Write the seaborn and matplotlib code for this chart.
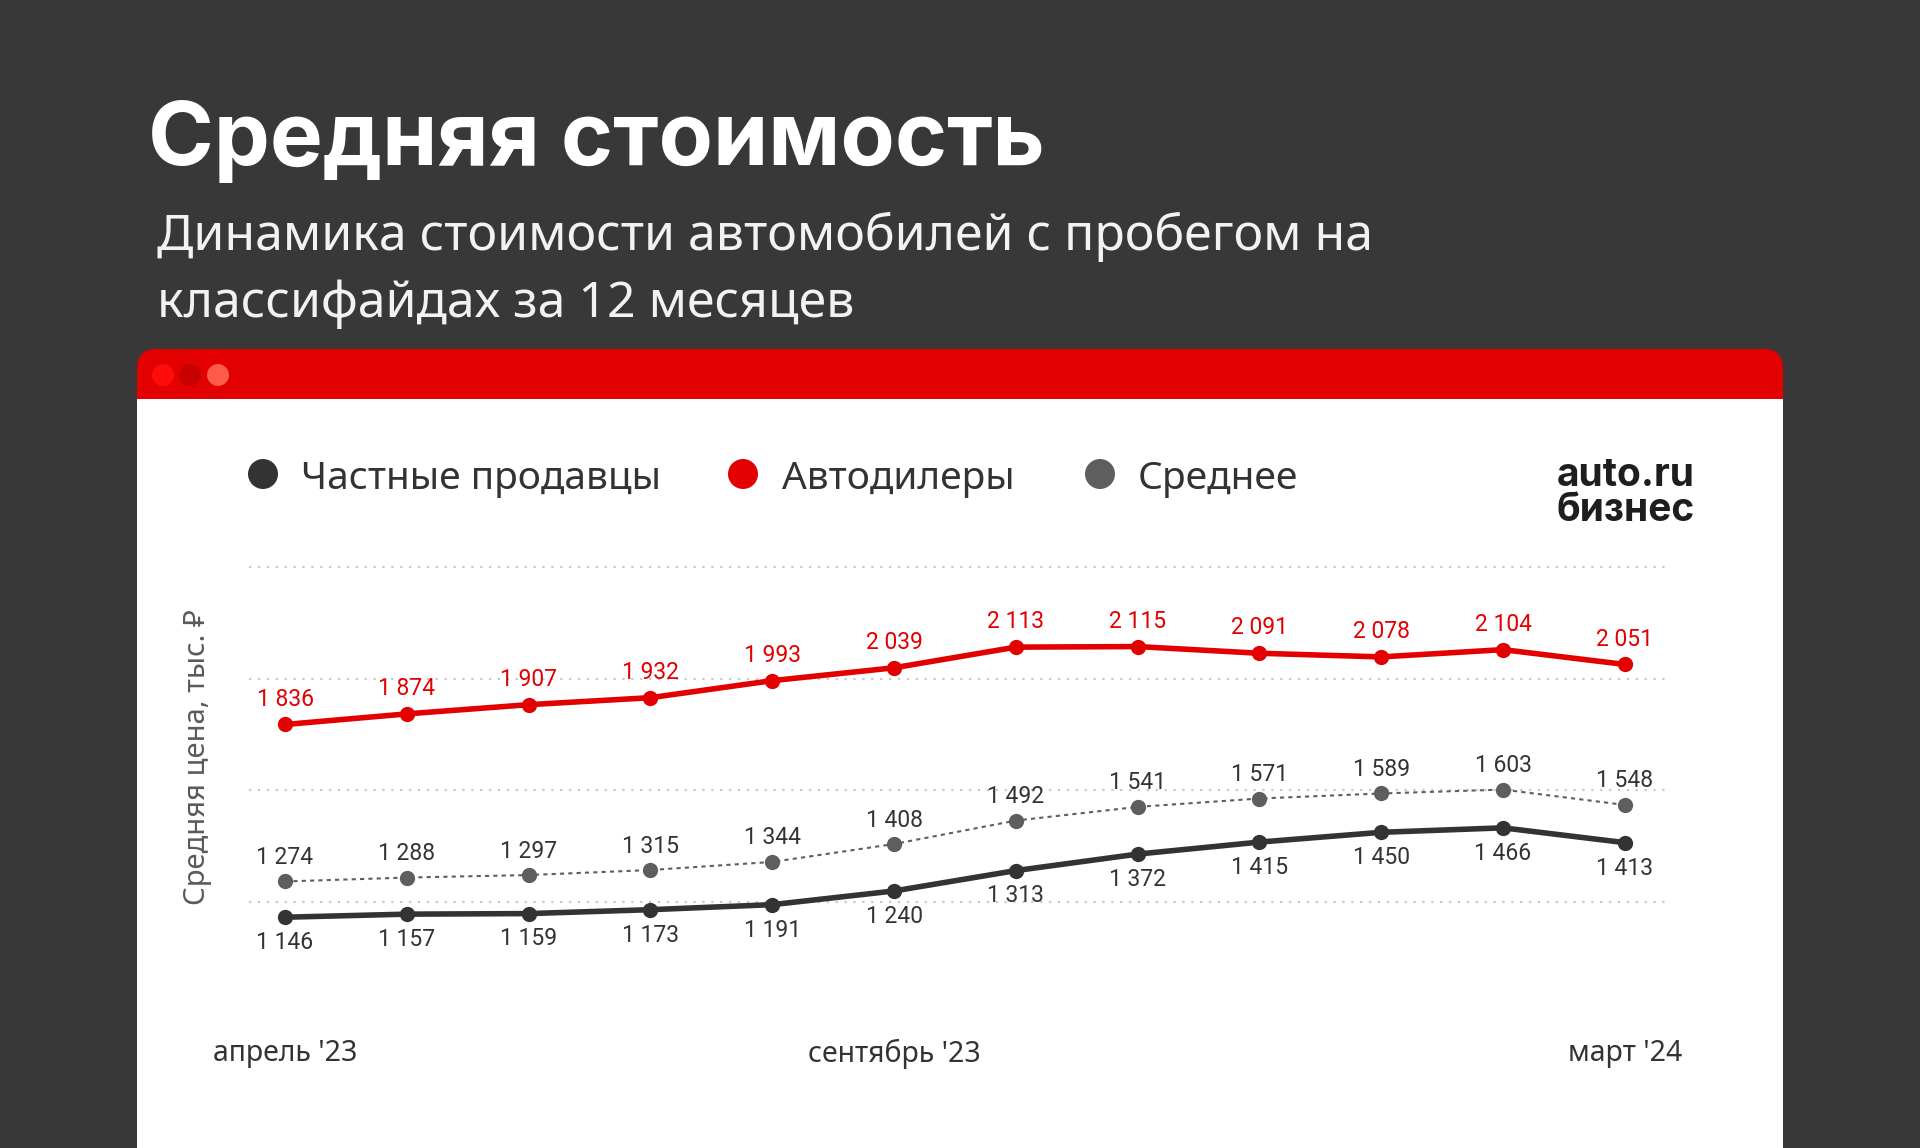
import numpy as np
import pandas as pd
import matplotlib
matplotlib.use("Agg")
import matplotlib.pyplot as plt
import seaborn as sns
from matplotlib.patches import FancyBboxPatch, Rectangle, Ellipse

# data
months = ["апрель '23", "май '23", "июнь '23", "июль '23", "август '23", "сентябрь '23",
          "октябрь '23", "ноябрь '23", "декабрь '23", "январь '24", "февраль '24", "март '24"]
private = [1146, 1157, 1159, 1173, 1191, 1240, 1313, 1372, 1415, 1450, 1466, 1413]
dealers = [1836, 1874, 1907, 1932, 1993, 2039, 2113, 2115, 2091, 2078, 2104, 2051]
average = [1274, 1288, 1297, 1315, 1344, 1408, 1492, 1541, 1571, 1589, 1603, 1548]
shown_ticks = [0, 5, 11]

df = pd.DataFrame({"idx": range(len(months)), "month": months,
                   "private": private, "dealers": dealers, "average": average})

sns.set_theme(style="white")
plt.rcParams['font.family'] = ['Noto Sans', 'DejaVu Sans']
bold_font = ['Inter', 'Roboto', 'DejaVu Sans']

W, H = 1920, 1148
fig = plt.figure(figsize=(W / 100, H / 100), dpi=100)
fig.patch.set_facecolor("#383838")

def fx(px):
    return px / W

def fy(py):
    return 1 - py / H

def dot(cx, cy, r, col):
    fig.patches.append(Ellipse((fx(cx), fy(cy)), 2 * r / W, 2 * r / H, transform=fig.transFigure,
                               facecolor=col, edgecolor="none", zorder=-1))

# card with red header
RED = "#e30000"
fig.patches.append(FancyBboxPatch((fx(137), fy(440)), fx(1783) - fx(137), fy(349) - fy(440),
                                  boxstyle="round,pad=0,rounding_size=0.01",
                                  transform=fig.transFigure, facecolor=RED, edgecolor="none",
                                  mutation_aspect=W / H, zorder=-3))
fig.patches.append(Rectangle((fx(137), 0), fx(1783) - fx(137), fy(399),
                             transform=fig.transFigure, facecolor="white", edgecolor="none",
                             zorder=-2))
for cx, col in [(163, "#ff0d0d"), (190, "#c90000"), (218, "#ff5b4b")]:
    dot(cx, 375, 11, col)

# titles
fig.text(fx(148), fy(165), "Средняя стоимость", color="white", fontsize=64,
         fontweight="bold", va="baseline", ha="left", family=bold_font)
fig.text(fx(157), fy(250), "Динамика стоимости автомобилей с пробегом на",
         color="#f2f2f2", fontsize=36, va="baseline", ha="left")
fig.text(fx(157), fy(317), "классифайдах за 12 месяцев",
         color="#f2f2f2", fontsize=36, va="baseline", ha="left")

# legend
for cx, tx, col, lab in [(263, 301, "#333333", "Частные продавцы"),
                         (743, 782, RED, "Автодилеры"),
                         (1100, 1138, "#5e5e5e", "Среднее")]:
    dot(cx, 474, 15, col)
    fig.text(fx(tx), fy(474), lab, color="#333333", fontsize=28, va="center_baseline", ha="left")

# logo
fig.text(fx(1557), fy(486), "auto.ru", color="#1e1e1e", fontsize=28, fontweight="bold",
         va="baseline", ha="left", family=bold_font)
fig.text(fx(1557), fy(521), "бизнес", color="#1e1e1e", fontsize=28, fontweight="bold",
         va="baseline", ha="left", family=bold_font)

# y label
fig.text(fx(198), fy(757), "Средняя цена, тыс. ₽", rotation=90, color="#5a5a5a",
         fontsize=21, va="center", ha="center")

# chart
ax = fig.add_axes([fx(249), fy(958), fx(1665) - fx(249), fy(553) - fy(958)])
ax.set_facecolor("none")
ax.set_xlim(-0.296, 11.33)
ax.set_ylim(1000, 2450)
for s in ax.spines.values():
    s.set_visible(False)
ax.set_yticks([1200, 1600, 2000, 2400])
ax.set_yticklabels([])
ax.yaxis.grid(True, color="#c8c8c8", linestyle=(0, (1, 3)), linewidth=1.6)
ax.xaxis.grid(False)

sns.lineplot(data=df, x="idx", y="average", ax=ax, color="#5e5e5e", linewidth=1.5,
             linestyle=(0, (2, 2)), marker="o", markersize=11, markeredgewidth=0, zorder=3)
sns.lineplot(data=df, x="idx", y="private", ax=ax, color="#333333", linewidth=4,
             marker="o", markersize=11, markeredgewidth=0, zorder=4)
sns.lineplot(data=df, x="idx", y="dealers", ax=ax, color=RED, linewidth=4,
             marker="o", markersize=11, markeredgewidth=0, zorder=4)
ax.set_xlabel("")
ax.set_ylabel("")
ax.set_xticks(shown_ticks)
ax.set_xticklabels([months[i] for i in shown_ticks], fontsize=20.5, color="#333333")
ax.tick_params(axis="both", length=0)
ax.tick_params(axis="x", pad=58)

def fmt(v):
    return f"{v:,}".replace(",", " ")

lab_font = ['Liberation Sans Narrow', 'Roboto', 'DejaVu Sans']
for i in range(len(months)):
    ax.annotate(fmt(dealers[i]), (i, dealers[i]), xytext=(0, 10), textcoords="offset points",
                ha="center", va="bottom", fontsize=16.5, color=RED, family=lab_font)
    ax.annotate(fmt(average[i]), (i, average[i]), xytext=(0, 9), textcoords="offset points",
                ha="center", va="bottom", fontsize=16.5, color="#333333", family=lab_font)
    ax.annotate(fmt(private[i]), (i, private[i]), xytext=(0, -10), textcoords="offset points",
                ha="center", va="top", fontsize=16.5, color="#333333", family=lab_font)

fig.savefig("out.png", dpi=100, facecolor=fig.get_facecolor())
